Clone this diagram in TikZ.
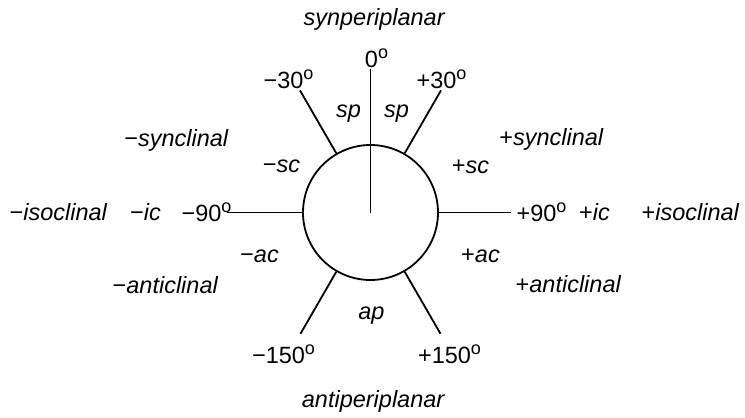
\documentclass[tikz,border=0pt]{standalone}
\usepackage{fontspec}
\setmainfont{Liberation Sans}
\usepackage{tikz}
\usetikzlibrary{positioning}

\newcommand{\dg}{\raisebox{9.5pt}{\fontsize{18}{18}\selectfont o}}

\begin{document}
\begin{tikzpicture}[x=1pt, y=1pt, line width=1.8pt,
    every node/.style={font=\fontsize{23.5}{27}\selectfont, inner sep=0pt}]
    \useasboundingbox (-370.5,-205.5) rectangle (374.5,212.5);

    \node[draw, circle, minimum size=135pt, line width=1.8pt] (ring) at (0,0) {};

    % end points of the bonds
    \coordinate (e90) at (0,143);
    \coordinate (e60) at (60:141);
    \coordinate (e120) at (120:141);
    \coordinate (e0) at (0:141);
    \coordinate (e180) at (180:143);
    \coordinate (em60) at (-60:140);
    \coordinate (em120) at (-120:140);

    \draw (ring.center) -- (e90);
    \draw (ring.60) -- (e60);
    \draw (ring.120) -- (e120);
    \draw (ring.0) -- (e0);
    \draw (ring.180) -- (e180);
    \draw (ring.-60) -- (em60);
    \draw (ring.-120) -- (em120);

    % angles
    \node (zero) at (6,154) {0\dg};
    \node (p30) at (71,133) {+30\dg};
    \node (m30) at (-82,133) {−30\dg};
    \node (p90) at (171,0) {+90\dg};
    \node (m90) at (-164,0) {−90\dg};
    \node (p150) at (79,-142) {+150\dg};
    \node (m150) at (-87,-142) {−150\dg};

    % short names
    \node (spl) at (-22,99) {\textit{sp}};
    \node (spr) at (26,99) {\textit{sp}};
    \node (msc) at (-89,46) {−\textit{sc}};
    \node (psc) at (100,46) {+\textit{sc}};
    \node (mic) at (-225,0) {−\textit{ic}};
    \node (pic) at (224,0) {+\textit{ic}};
    \node (mac) at (-111,-44) {−\textit{ac}};
    \node (pac) at (110,-43) {+\textit{ac}};
    \node (ap) at (1,-103) {\textit{ap}};

    % full names
    \node (syn) at (4,193) {\textit{synperiplanar}};
    \node (msyncl) at (-194,72) {−\textit{synclinal}};
    \node (psyncl) at (181,73) {+\textit{synclinal}};
    \node (misocl) at (-312,0) {−\textit{isoclinal}};
    \node (pisocl) at (320,0) {+\textit{isoclinal}};
    \node (mantcl) at (-205,-73) {−\textit{anticlinal}};
    \node (pantcl) at (198,-72) {+\textit{anticlinal}};
    \node (anti) at (3,-189) {\textit{antiperiplanar}};
\end{tikzpicture}
\end{document}
